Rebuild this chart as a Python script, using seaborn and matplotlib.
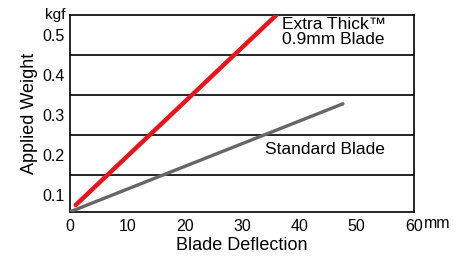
import pandas as pd
import seaborn as sns
import matplotlib.pyplot as plt

# values
deflection_thick = [1.0, 36.0]
weight_thick = [0.075, 0.55]
deflection_std = [0.0, 47.6]
weight_std = [0.058, 0.328]
series_names = ['Extra Thick™\n0.9mm Blade', 'Standard Blade']
x_ticks = [0, 10, 20, 30, 40, 50, 60]
y_labels = [0.1, 0.2, 0.3, 0.4, 0.5]
grid_levels = [0.15, 0.25, 0.35, 0.45]

df = pd.DataFrame({
    'Deflection': deflection_thick + deflection_std,
    'Weight': weight_thick + weight_std,
    'Blade': [series_names[0]] * 2 + [series_names[1]] * 2,
})

sns.set_style('white')
plt.rcParams['font.family'] = ['Liberation Sans', 'DejaVu Sans']
plt.rcParams['text.color'] = 'black'
plt.rcParams['axes.labelcolor'] = 'black'
plt.rcParams['xtick.color'] = 'black'
plt.rcParams['ytick.color'] = 'black'

fig = plt.figure(figsize=(4.67, 2.60), dpi=100)
ax = fig.add_axes([70 / 467, 48 / 260, 344 / 467, 197 / 260])

palette = {series_names[0]: '#e8131b', series_names[1]: '#666666'}
sns.lineplot(data=df, x='Deflection', y='Weight', hue='Blade', palette=palette,
             legend=False, ax=ax, zorder=3)
ax.lines[0].set_linewidth(3.2)
ax.lines[1].set_linewidth(2.4)

for g in grid_levels:
    ax.axhline(g, color='black', lw=1.2, zorder=2)

ax.set_xlim(0, 60)
ax.set_ylim(0.0575, 0.55)
ax.set_xticks(x_ticks)
ax.set_xticklabels([str(t) for t in x_ticks], fontsize=11.5)
ax.set_yticks(y_labels)
ax.set_yticklabels([str(v) for v in y_labels], fontsize=11.5)
ax.tick_params(axis='x', direction='in', length=4, width=1.2, color='black', pad=5)
ax.tick_params(axis='y', length=0, pad=4)
for s in ax.spines.values():
    s.set_color('black')
    s.set_linewidth(1.2)

ax.set_xlabel('Blade Deflection', fontsize=13, labelpad=2)
ax.set_ylabel('Applied Weight', fontsize=13, labelpad=3)

ax.text(46.0, 0.507, series_names[0], ha='center', va='center', fontsize=12.5,
        linespacing=1.0)
ax.text(44.5, 0.213, series_names[1], ha='center', va='center', fontsize=12.5)
fig.text(55 / 467, 1 - 15 / 260, 'kgf', ha='center', va='center', fontsize=11)
fig.text(437 / 467, 1 - 223 / 260, 'mm', ha='center', va='center', fontsize=11.5)

fig.savefig('out.png', dpi=100)
